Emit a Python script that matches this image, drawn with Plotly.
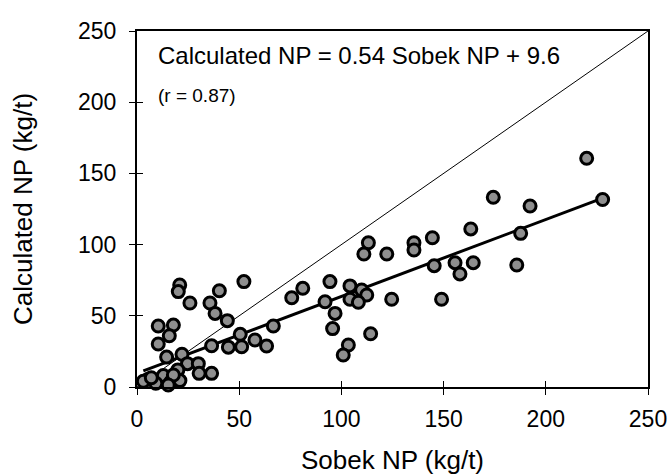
import plotly.graph_objects as go

sobek_np = [20.9, 20.2, 25.9, 40.3, 35.7, 38.2, 44.2, 52.3, 10.4, 17.8,
            15.8, 10.4, 66.7, 50.5, 36.5, 44.7, 51.2, 57.7, 63.4, 14.5,
            22.0, 24.7, 30.0, 20.0, 30.4, 36.5, 12.9, 5.5, 3.1, 9.2,
            16.5, 21.0, 17.8, 15.3, 7.0,
            113.2, 111.0, 122.2, 135.5, 135.5, 144.5, 163.3, 145.4, 155.6, 158.0,
            164.5, 149.0, 124.6, 94.4, 81.1, 75.7, 92.0, 96.9, 95.7, 104.2,
            109.9, 112.4, 104.2, 108.3, 114.3, 103.4, 100.9,
            220.0, 174.3, 192.3, 227.8, 187.7, 185.8]
calc_np = [71.6, 67.0, 59.0, 67.6, 59.0, 51.7, 46.6, 74.0, 42.8, 43.5,
           36.0, 30.2, 42.8, 37.0, 29.0, 28.0, 28.3, 33.0, 28.8, 21.0,
           23.0, 16.4, 16.4, 12.0, 9.6, 9.6, 8.0, 5.5, 4.0, 2.6,
           3.5, 4.5, 8.4, 1.4, 6.5,
           101.3, 93.4, 93.4, 101.3, 96.2, 104.8, 111.0, 85.2, 87.3, 79.4,
           87.3, 61.6, 61.6, 74.0, 69.3, 62.7, 59.9, 51.7, 41.0, 71.0,
           68.1, 64.6, 61.6, 59.5, 37.4, 29.5, 22.5,
           160.6, 133.2, 127.1, 131.7, 107.9, 85.7]

slope = 0.54
intercept = 9.6
fit_x = [min(sobek_np), max(sobek_np)]
fit_y = [slope * v + intercept for v in fit_x]
one_to_one = [0, 250]
tick_vals = [0, 50, 100, 150, 200, 250]

FONT = "Liberation Sans, Arial, sans-serif"

fig = go.Figure()
fig.add_trace(go.Scatter(x=one_to_one, y=one_to_one, mode="lines",
                         line=dict(color="black", width=1), showlegend=False,
                         hoverinfo="skip", cliponaxis=False))
fig.add_trace(go.Scatter(x=fit_x, y=fit_y, mode="lines",
                         line=dict(color="black", width=3), showlegend=False,
                         hoverinfo="skip"))
fig.add_trace(go.Scatter(x=sobek_np, y=calc_np, mode="markers",
                         marker=dict(size=12, color="#8e8e8e",
                                     line=dict(color="black", width=3)),
                         showlegend=False, cliponaxis=False))

axis_common = dict(range=[0, 250], tickvals=tick_vals, showgrid=False, zeroline=False,
                   showline=True, linecolor="black", linewidth=2, mirror=True,
                   ticks="outside", ticklen=6, tickwidth=1, tickcolor="black",
                   automargin=False,
                   tickfont=dict(family=FONT, size=23, color="black"))

fig.update_layout(
    width=672, height=475,
    margin=dict(l=137, r=24, t=31, b=88),
    paper_bgcolor="white", plot_bgcolor="white",
    xaxis=dict(**axis_common,
               title=dict(text="Sobek NP (kg/t)", font=dict(family=FONT, size=26, color="black"),
                          standoff=26),
               ticklabelstandoff=4),
    yaxis=dict(**axis_common,
               title=dict(text="Calculated NP (kg/t)", font=dict(family=FONT, size=26, color="black"),
                          standoff=38),
               ticklabelstandoff=8),
    xaxis2=dict(overlaying="x", range=[0, 250], tickvals=tick_vals, showticklabels=False,
                ticks="inside", ticklen=6, tickcolor="black", showgrid=False, zeroline=False,
                showline=False, side="bottom", automargin=False),
    yaxis2=dict(overlaying="y", range=[0, 250], tickvals=tick_vals, showticklabels=False,
                ticks="inside", ticklen=6, tickcolor="black", showgrid=False, zeroline=False,
                showline=False, side="left", automargin=False),
    annotations=[
        dict(text="Calculated NP = 0.54 Sobek NP + 9.6", xref="paper", yref="paper",
             x=0.037, y=0.93, xanchor="left", yanchor="middle", showarrow=False,
             font=dict(family=FONT, size=24, color="black")),
        dict(text="(r = 0.87)", xref="paper", yref="paper",
             x=0.037, y=0.82, xanchor="left", yanchor="middle", showarrow=False,
             font=dict(family=FONT, size=19, color="black")),
    ],
)
fig.add_trace(go.Scatter(x=[None], y=[None], xaxis="x2", yaxis="y2", showlegend=False))

fig.write_html("out.html")
